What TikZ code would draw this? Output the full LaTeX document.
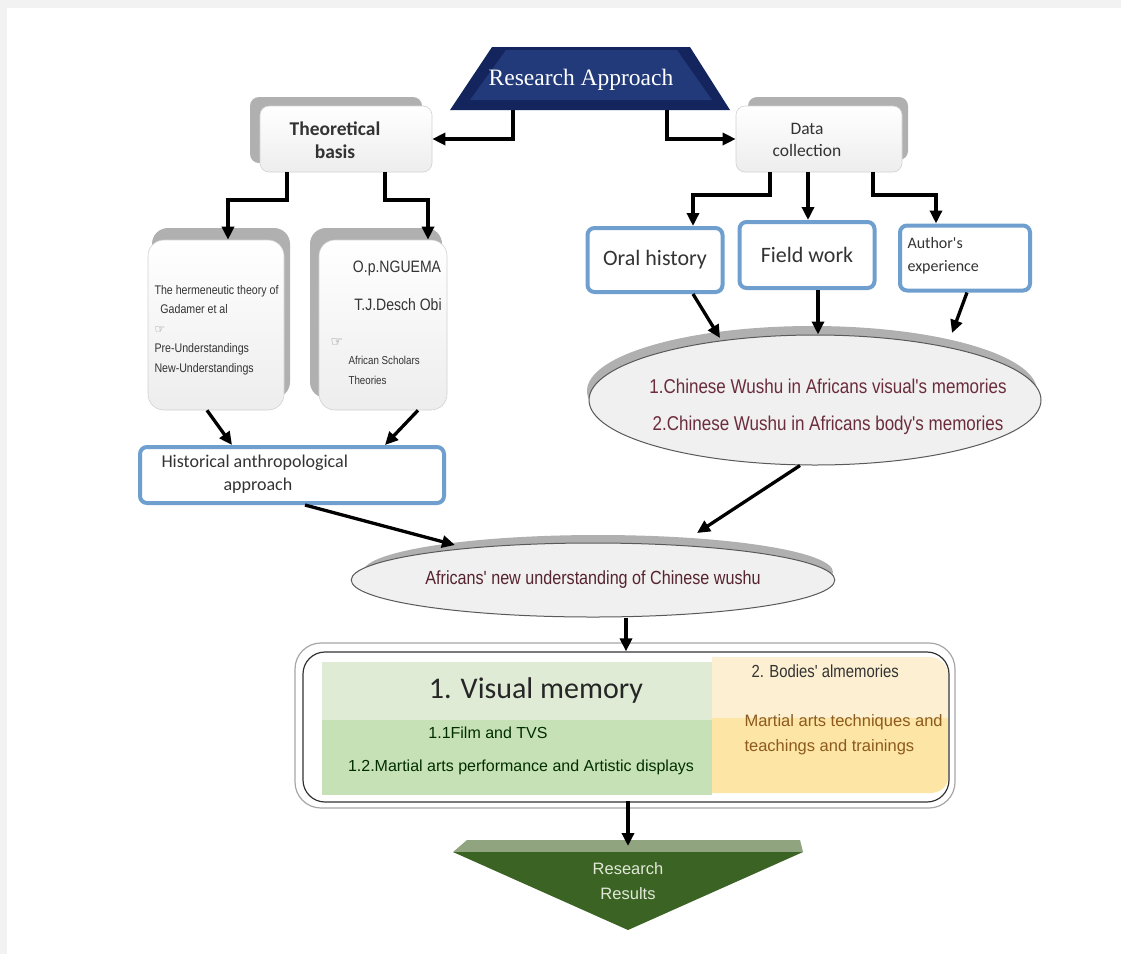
\documentclass[tikz,border=0pt]{standalone}
\usepackage{fontspec}
\setmainfont{Liberation Sans}
\newfontfamily\serfont{Liberation Serif}
\newfontfamily\calfont{Carlito}
\newfontfamily\narfont[FakeStretch=0.85]{Liberation Sans}
\newfontfamily\dvsym{DejaVu Sans}
\usetikzlibrary{shapes.geometric,arrows.meta,calc}
\definecolor{navyA}{HTML}{14255E}
\definecolor{navyB}{HTML}{223A7A}
\definecolor{shad}{HTML}{B0B0B0}
\definecolor{blueb}{HTML}{6F9FCF}
\definecolor{maroon}{HTML}{6B2C3C}
\definecolor{greenA}{HTML}{E0EBD6}
\definecolor{greenB}{HTML}{C6E1B5}
\definecolor{yellA}{HTML}{FDF0D2}
\definecolor{yellB}{HTML}{FDE5A6}
\definecolor{darkgreen}{HTML}{3B6324}
\definecolor{bandgreen}{HTML}{8FA47F}
\definecolor{txt}{HTML}{333333}
\tikzset{
  arr/.style={-{Triangle[length=13pt,width=12pt]}, line width=3.3pt, black},
  graybox/.style={rectangle, rounded corners=9pt, top color=white, bottom color=gray!14, draw=gray!35, line width=0.6pt, text=txt},
  bluebox/.style={rectangle, rounded corners=7pt, fill=white, draw=blueb, line width=4pt, text=txt},
  ell/.style={ellipse, fill=gray!12, draw=gray!70!black, line width=1pt},
}
\begin{document}
\begin{tikzpicture}[x=1pt,y=-1pt]
\useasboundingbox (0,0) rectangle (1121,954);
\fill[white] (0,0) rectangle (1121,954);
\fill[gray!10] (0,0) rectangle (1121,8);
\fill[gray!10] (0,0) rectangle (7,954);

% Research approach trapezoid
\fill[navyA] (492,47) -- (690,47) -- (730,110) -- (450,110) -- cycle;
\fill[navyB] (506,50) -- (677,50) -- (712,100) -- (470,100) -- cycle;
\node[text=white, font=\serfont\fontsize{23.5}{26}\selectfont] (ra) at (581,80) {Research Approach};
\coordinate (raL) at (513,110);
\coordinate (raR) at (667,110);

% Theoretical basis
\fill[shad, rounded corners=9pt] (250,97) rectangle (422,163);
\node[graybox, minimum width=172pt, minimum height=66pt] (tb) at (346,139) {};
\node[align=center, text=txt, font=\calfont\bfseries\fontsize{19.5}{23}\selectfont] (tbt) at (335,140) {Theoretical\\basis};

% Data collection
\fill[shad, rounded corners=9pt] (748,97) rectangle (908,160);
\node[graybox, minimum width=166pt, minimum height=66pt] (dc) at (819,139) {};
\node[align=center, text=txt, font=\calfont\fontsize{17.5}{22}\selectfont] (dct) at (807,140) {Data\\collection};

\draw[arr] (raL) |- (tb.east);
\draw[arr] (raR) |- (dc.west);

% Hermeneutic box
\fill[shad, rounded corners=16pt] (152,228) rectangle (290,398);
\node[graybox, rounded corners=16pt, minimum width=136pt, minimum height=170pt] (hb) at (216,325) {};
\node[anchor=west, align=left, text=txt, font=\narfont\fontsize{12.5}{19.5}\selectfont] (hbt) at (151,330)
  {The hermeneutic theory of\\\ \ Gadamer et al\\{\dvsym\fontsize{12}{12}\selectfont\color{gray}☞}\\Pre-Understandings\\New-Understandings};

% African scholars box
\fill[shad, rounded corners=16pt] (310,228) rectangle (442,398);
\node[graybox, rounded corners=16pt, minimum width=128pt, minimum height=170pt] (rb) at (383,325) {};
\node[text=txt, font=\narfont\fontsize{16.5}{18}\selectfont] (ng) at (397,268) {O.p.NGUEMA};
\node[text=txt, font=\narfont\fontsize{16.5}{18}\selectfont] (ob) at (398,305) {T.J.Desch Obi};
\node[text=gray, font=\dvsym\fontsize{14}{14}\selectfont] (hand) at (337,343) {☞};
\node[anchor=north west, align=left, text=txt, font=\narfont\fontsize{11.5}{20}\selectfont] (as) at (345,353) {African Scholars\\Theories};

% tb -> hb, rb
\coordinate (tb1) at (287,172);
\coordinate (tb2) at (385,172);
\draw[arr] (tb1) -- ++(0,28) -| ([xshift=12pt]hb.north);
\draw[arr] (tb2) -- ++(0,28) -| ([xshift=45pt]rb.north);

% Historical anthropological approach
\node[bluebox, minimum width=304pt, minimum height=56pt] (hab) at (292,475) {};
\node[anchor=west, align=left, text=txt, font=\calfont\fontsize{18}{23}\selectfont] (habt) at (158,474)
  {Historical anthropological\\\hspace*{62pt}approach};
\draw[arr] ([xshift=-9pt]hb.south) -- ([xshift=-60pt]hab.north);
\draw[arr] ([xshift=35pt]rb.south) -- ([xshift=93pt]hab.north);

% Data collection children
\node[bluebox, minimum width=135pt, minimum height=64pt, font=\calfont\fontsize{22}{24}\selectfont] (oh) at (655,260) {Oral history};
\node[bluebox, minimum width=135pt, minimum height=66pt, font=\calfont\fontsize{22}{24}\selectfont] (fw) at (807,255) {Field work};
\node[bluebox, minimum width=130pt, minimum height=65pt] (ae) at (965,258) {};
\node[anchor=west, align=left, text=txt, font=\calfont\fontsize{16}{23}\selectfont] (aet) at (904,256) {Author's\\experience};

\coordinate (dc1) at (770,172);
\coordinate (dc2) at (808,172);
\coordinate (dc3) at (873,172);
\draw[arr] (dc1) -- ++(0,23) -| ([xshift=38pt]oh.north);
\draw[arr] (dc2) -- (dc2 |- fw.north);
\draw[arr] (dc3) -- ++(0,23) -| ([xshift=-29pt]ae.north);

% Big ellipse
\fill[shad] (812,391) ellipse [x radius=225pt, y radius=65pt];
\node[ell, minimum width=452pt, minimum height=130pt] (be) at (815,400) {};
\node[align=center, text=maroon, font=\narfont\fontsize{20}{37}\selectfont] (bet) at (828,407)
  {1.Chinese Wushu in Africans visual's memories\\2.Chinese Wushu in Africans body's memories};
\draw[arr] ([xshift=38pt]oh.south) -- (720,338);
\draw[arr] ([xshift=11pt]fw.south) -- ([xshift=11pt]fw.south |- be.north);
\draw[arr] ([xshift=2pt]ae.south) -- (952,333);

% Middle ellipse
\fill[shad] (598,572) ellipse [x radius=235pt, y radius=37pt];
\node[ell, minimum width=470pt, minimum height=74pt, text=maroon!80!black,
      font=\narfont\fontsize{19}{22}\selectfont] (me) at (593,580)
  {Africans' new understanding of Chinese wushu};
\draw[arr] ([xshift=13pt]hab.south) -- (455,545);
\draw[arr] ([xshift=-15pt]be.south) -- (697,533);

% Results frame
\fill[greenA] (322,662) rectangle (712,720);
\fill[greenB] (322,720) rectangle (712,795);
\fill[yellA] (712,657) -- (930,657) to[out=0,in=90] (948,675) -- (948,718) -- (712,718) -- cycle;
\fill[yellB] (712,718) -- (948,718) -- (948,778) to[out=-90,in=0] (930,793) -- (712,793) -- cycle;
\draw[gray!70, line width=1.2pt, rounded corners=26pt] (295,643) rectangle (955,808);
\node[draw=gray!40!black, line width=1.2pt, rounded corners=22pt, minimum width=646pt, minimum height=150pt] (rf) at (626,727) {};
\node[text=black!85, font=\calfont\fontsize{30}{33}\selectfont] (vm) at (536,690) {1. Visual memory};
\node[text=black!70!green!60!black, font=\fontsize{16}{18}\selectfont] (ft) at (488,733) {1.1Film and TVS};
\node[text=black!70!green!60!black, font=\fontsize{16}{18}\selectfont] (mp) at (521,767) {1.2.Martial arts performance and Artistic displays};
\node[anchor=west, text=black!80, font=\narfont\fontsize{17.5}{20}\selectfont] (bm) at (748,671) {2. Bodies' almemories};
\node[anchor=west, align=left, text={rgb,255:red,140;green,90;blue,30}, font=\fontsize{16.5}{25}\selectfont] (mt) at (741,735)
  {Martial arts techniques and\\teachings and trainings};
\draw[arr] (me.south -| rf.north) -- (rf.north);

% Research results
\fill[bandgreen] (467,840) -- (800,840) -- (803,852) -- (453,852) -- cycle;
\fill[darkgreen] (453,852) -- (803,852) -- (628,930) -- cycle;
\node[align=center, text={rgb,255:red,225;green,232;blue,215}, font=\fontsize{16.5}{25}\selectfont] (rr) at (628,881) {Research\\Results};
\coordinate (rfb) at (628,801);
\draw[arr] (rfb) -- (628,846);
\end{tikzpicture}
\end{document}
